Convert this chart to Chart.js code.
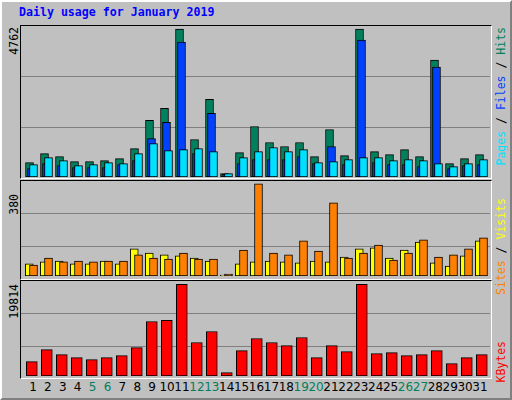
<!DOCTYPE html>
<html><head><meta charset="utf-8">
<script src="https://cdn.jsdelivr.net/npm/chart.js@4"></script>
<style>
html,body{margin:0;padding:0;}
body{width:512px;height:400px;position:relative;background:#C0C0C0;overflow:hidden;font-family:"DejaVu Sans Mono",monospace;}
#frame{position:absolute;left:0;top:0;width:508px;height:396px;border-left:2px solid #fff;border-top:2px solid #fff;border-right:2px solid #808080;border-bottom:2px solid #808080;}
.panel{position:absolute;left:20px;width:470px;border-left:1px solid #000;border-top:1px solid #000;border-right:1px solid #fff;border-bottom:1px solid #fff;}
.grid{position:absolute;left:21px;width:469px;height:1px;background:#808080;}
canvas{position:absolute;}
.v{position:absolute;writing-mode:vertical-rl;transform:rotate(180deg);font-size:11.5px;line-height:12px;white-space:nowrap;}
.day{position:absolute;top:380px;width:20px;margin-left:-10px;text-align:center;font-family:"DejaVu Sans",sans-serif;font-size:12px;}
#title{position:absolute;left:19px;top:5px;font-weight:bold;font-size:11.6px;color:#0000FF;}
</style></head><body>
<div id="frame"></div>
<div id="title">Daily usage for January 2019</div>
<div class="panel" style="top:25px;height:152px"></div>
<div class="panel" style="top:180px;height:98px"></div>
<div class="panel" style="top:280px;height:97px"></div>
<div class="grid" style="top:76px"></div><div class="grid" style="top:127px"></div>
<div class="grid" style="top:213px"></div><div class="grid" style="top:246px"></div>
<div class="grid" style="top:313px"></div><div class="grid" style="top:346px"></div>
<div class="v" style="left:8px;top:27px">4762</div>
<div class="v" style="left:8px;top:194px">380</div>
<div class="v" style="left:8px;top:284px">19814</div>
<div class="v" style="left:495px;top:27px"><span style="color:#00E0FF">Pages</span> / <span style="color:#0040FF">Files</span> / <span style="color:#00805C">Hits</span></div>
<div class="v" style="left:495px;top:198px"><span style="color:#FF8000">Sites</span> / <span style="color:#FFFF00">Visits</span></div>
<div class="v" style="left:495px;top:341px;color:#FF0000">KBytes</div>
<canvas id="c1" width="465" height="152" style="left:23.5px;top:25px"></canvas>
<canvas id="c2" width="465" height="96" style="left:23.5px;top:180px"></canvas>
<canvas id="c3" width="465" height="96" style="left:23.5px;top:280px"></canvas>
<div id="days"></div>
<script>
const days=[1,2,3,4,5,6,7,8,9,10,11,12,13,14,15,16,17,18,19,20,21,22,23,24,25,26,27,28,29,30,31];
const weekend=[5,6,12,13,19,20,26,27];
const hits=[463,754,657,495,495,528,592,915,1820,2208,4762,1206,2499,108,786,1626,1109,980,1109,657,1529,689,4762,818,722,883,657,3759,431,592,722];
const files=[269,431,366,302,302,302,398,528,1239,1756,4341,754,2047,86,431,560,560,560,657,431,980,398,4405,463,398,398,334,3533,269,366,398];
const pages=[398,625,528,366,398,463,431,754,1077,851,883,915,818,108,625,818,948,818,883,463,495,560,625,625,528,560,528,431,334,431,560];
const sites=[50,58,62,50,50,62,50,112,95,87,83,74,62,4,50,58,62,58,54,62,58,78,112,116,74,107,140,54,41,83,145];
const visits=[45,74,58,62,58,62,62,87,74,70,95,70,70,8,107,380,95,87,145,103,302,74,95,128,66,95,149,78,87,112,157];
const kbytes=[3109,5712,4627,3977,3543,3977,4410,6146,11785,12002,19814,7230,9616,723,5495,8098,7230,6579,8315,3977,6579,5278,19814,4844,5061,4410,4627,5495,2675,3977,4627];

const dl=document.getElementById('days');
days.forEach((d,i)=>{const e=document.createElement('div');e.className='day';e.textContent=d;e.style.left=(33+14.9*i)+'px';e.style.color=weekend.includes(d)?'#00805C':'#000';dl.appendChild(e);});

function ds(vals,dx,color,w,order){return {data:vals.map((v,i)=>({x:days[i]+dx,y:v})),backgroundColor:color,borderColor:'#000',borderWidth:1,borderSkipped:false,barThickness:w,grouped:false,order:order};}
function mk(id,sets,max){new Chart(document.getElementById(id),{type:'bar',data:{datasets:sets},options:{responsive:false,animation:false,devicePixelRatio:1,layout:{padding:0},plugins:{legend:{display:false},tooltip:{enabled:false}},scales:{x:{type:'linear',min:0.5,max:31.5,offset:false,display:false,grid:{offset:false}},y:{min:0,max:max,display:false}}}});}
mk('c1',[ds(hits,-0.133,'#00805C',8,2),ds(files,0,'#0040FF',8,1),ds(pages,0.133,'#00E0FF',8,0)],4891);
mk('c2',[ds(sites,-0.15,'#FFFF00',8,1),ds(visits,0.133,'#FF8000',8,0)],396);
mk('c3',[ds(kbytes,0.02,'#FF0000',11,0)],20742);
</script></body></html>
